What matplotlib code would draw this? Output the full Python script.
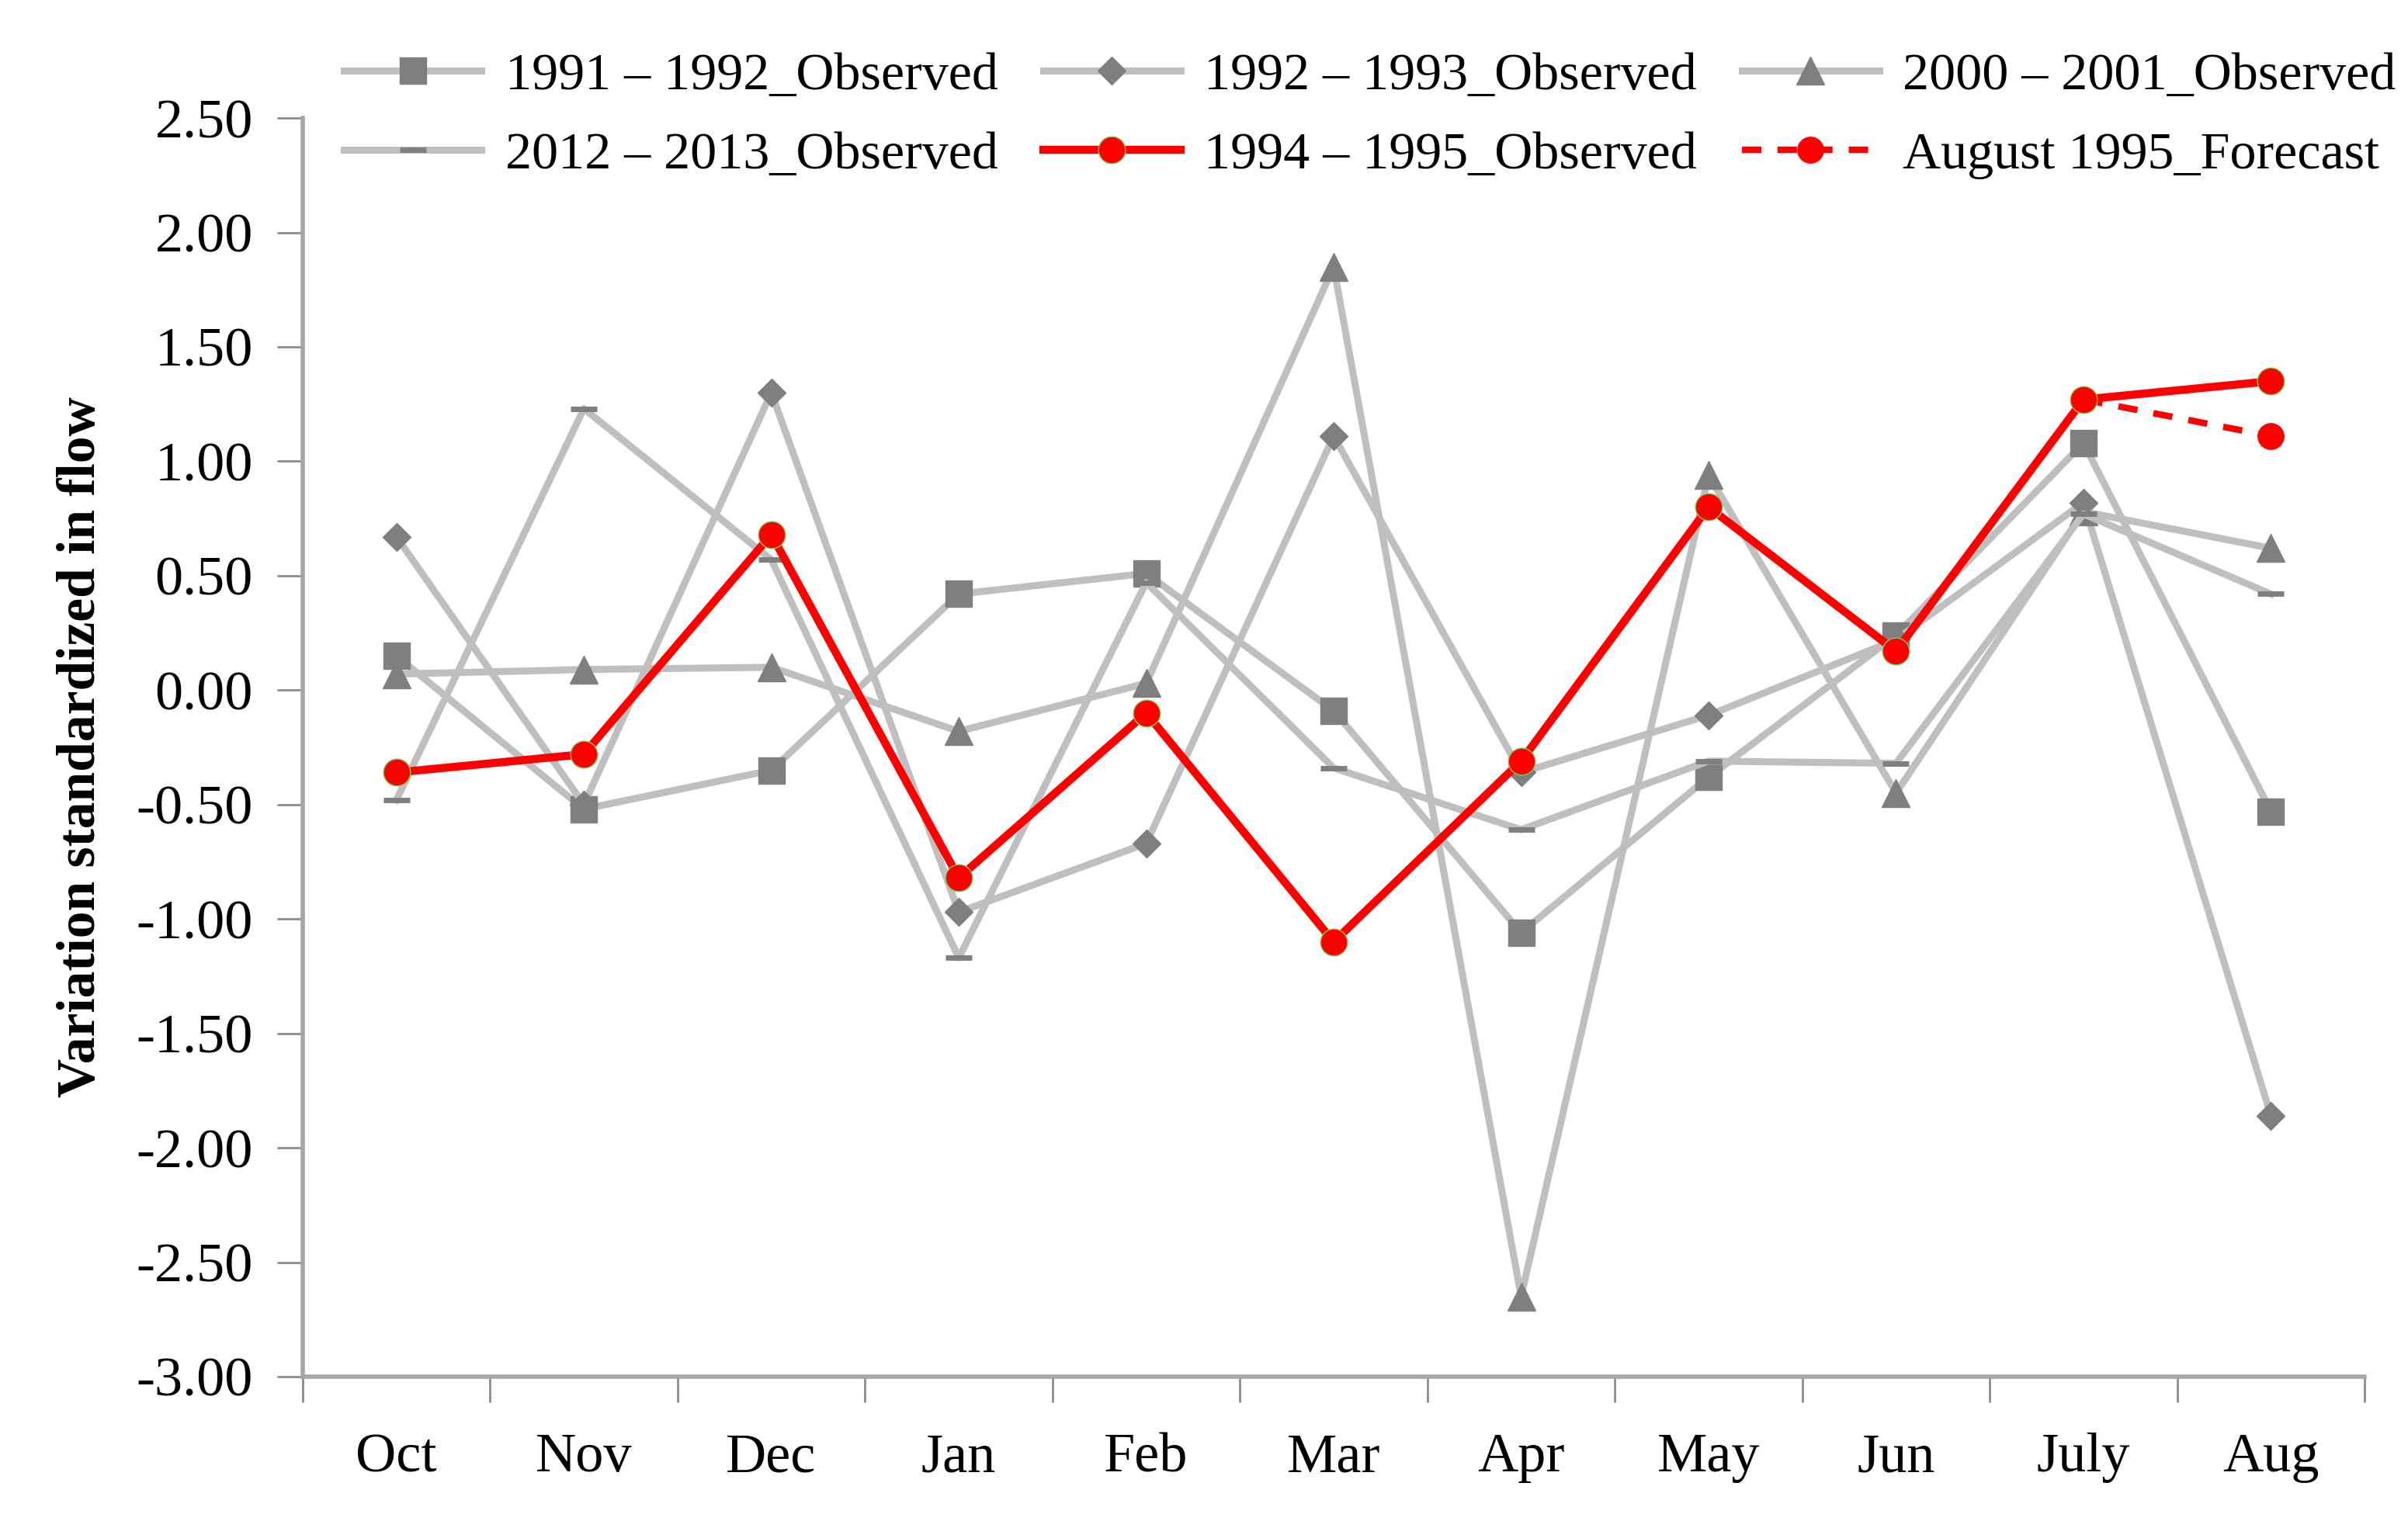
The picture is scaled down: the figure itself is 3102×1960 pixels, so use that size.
import numpy as np
import matplotlib.pyplot as plt

months = ['Oct', 'Nov', 'Dec', 'Jan', 'Feb', 'Mar', 'Apr', 'May', 'Jun', 'July', 'Aug']

obs_1991_1992 = [0.15, -0.52, -0.35, 0.42, 0.51, -0.09, -1.06, -0.38, 0.24, 1.08, -0.53]
obs_1992_1993 = [0.67, -0.50, 1.30, -0.97, -0.67, 1.11, -0.36, -0.11, 0.22, 0.82, -1.86]
obs_2000_2001 = [0.07, 0.09, 0.10, -0.18, 0.03, 1.85, -2.65, 0.94, -0.45, 0.78, 0.62]
obs_2012_2013 = [-0.48, 1.23, 0.57, -1.17, 0.47, -0.34, -0.61, -0.31, -0.32, 0.77, 0.42]
obs_1994_1995 = [-0.36, -0.28, 0.68, -0.82, -0.10, -1.10, -0.31, 0.80, 0.17, 1.27, 1.35]
forecast_months = ['July', 'Aug']
forecast_1995 = [1.27, 1.11]

plt.rcParams['font.family'] = ['Liberation Serif', 'DejaVu Serif']

fig = plt.figure(figsize=(31.02, 19.60), dpi=100)
ax = fig.add_axes([0.1257, 0.0949, 0.8563, 0.8275])

x = np.arange(len(months))
xf = [months.index(m) for m in forecast_months]

grey_line = '#BFBFBF'
grey_mark = '#7F7F7F'

h1, = ax.plot(x, obs_1991_1992, color=grey_line, lw=6.5, marker='s', ms=24,
              mfc=grey_mark, mec=grey_mark, label='1991 – 1992_Observed')
h2, = ax.plot(x, obs_1992_1993, color=grey_line, lw=6.5, marker='D', ms=18,
              mfc=grey_mark, mec=grey_mark, label='1992 – 1993_Observed')
h3, = ax.plot(x, obs_2000_2001, color=grey_line, lw=6.5, marker='^', ms=26,
              mfc=grey_mark, mec=grey_mark, label='2000 – 2001_Observed')
h4, = ax.plot(x, obs_2012_2013, color=grey_line, lw=6.5, marker='_', ms=24,
              mew=5, mfc=grey_mark, mec=grey_mark, label='2012 – 2013_Observed')
h6, = ax.plot(xf, forecast_1995, color='red', lw=6, ls=(0, (3, 2.5)), marker='o',
              ms=24, mfc='red', mec='red', label='August 1995_Forecast', zorder=4)
h5, = ax.plot(x, obs_1994_1995, color='red', lw=7.5, marker='o', ms=25,
              mfc='red', mec='#7CCB5E', mew=1, label='1994 – 1995_Observed', zorder=5)

ax.set_xlim(-0.5, len(months) - 0.5)
ax.set_ylim(-3.0, 2.5)
ax.set_yticks(np.arange(-3.0, 2.51, 0.5))
ax.set_yticklabels(['{:.2f}'.format(v) for v in np.arange(-3.0, 2.51, 0.5)])
ax.set_xticks(x)
ax.set_xticklabels(months)
ax.set_xticks(np.arange(-0.5, len(months)), minor=True)

ax.tick_params(axis='x', which='major', length=0, pad=52, labelsize=52)
ax.tick_params(axis='x', which='minor', length=24, width=2, color='#8C8C8C')
ax.tick_params(axis='y', length=24, width=2, color='#8C8C8C', pad=22, labelsize=52)

for s in ['top', 'right']:
    ax.spines[s].set_visible(False)
for s in ['left', 'bottom']:
    ax.spines[s].set_color('#A6A6A6')
    ax.spines[s].set_linewidth(4)

ax.set_ylabel('Variation standardized in flow', fontsize=50, fontweight='bold', labelpad=28)

fig.legend(handles=[h1, h4, h2, h5, h3, h6], ncol=3, loc='center',
           bbox_to_anchor=(0.569, 0.924), frameon=False, fontsize=49,
           handlelength=2.6, columnspacing=0.85, handletextpad=0.45, labelspacing=0.6,
           borderpad=0)

fig.savefig('out.png', dpi=100)
